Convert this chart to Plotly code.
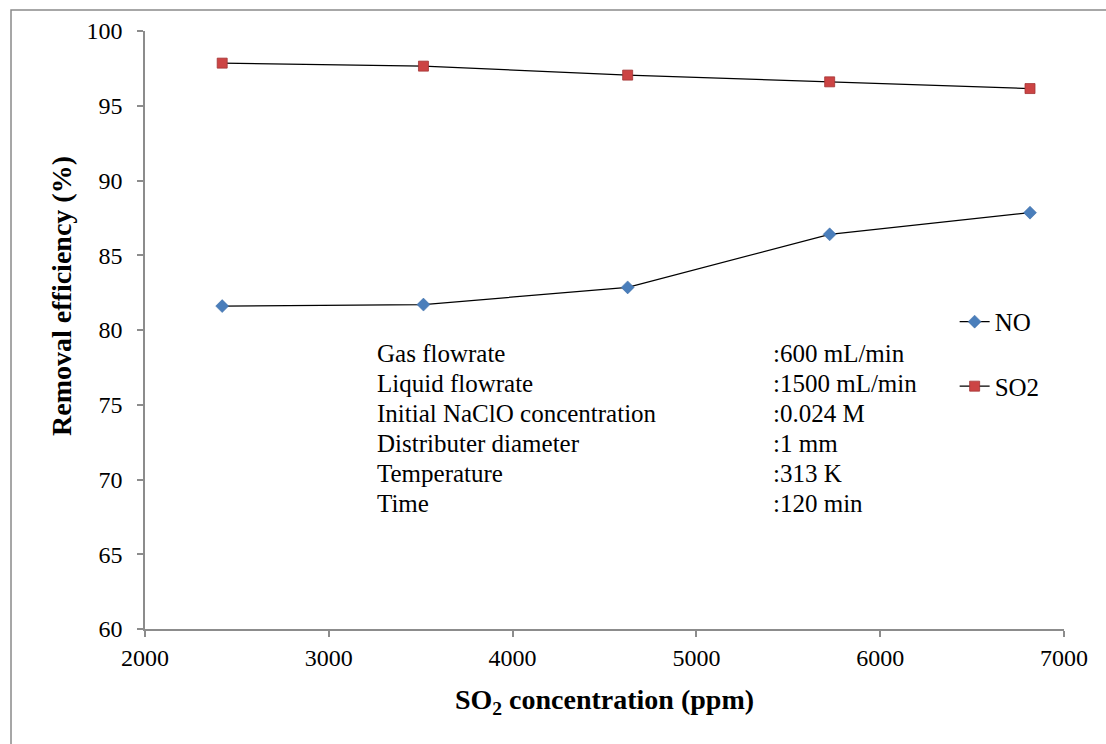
import plotly.graph_objects as go

# Data
so2_conc = [2420, 3515, 4626, 5725, 6815]
no_eff = [81.6, 81.7, 82.85, 86.4, 87.85]
so2_eff = [97.85, 97.65, 97.05, 96.6, 96.15]

cond_labels = ["Gas flowrate", "Liquid flowrate", "Initial NaClO concentration",
               "Distributer diameter", "Temperature", "Time"]
cond_values = [":600 mL/min", ":1500 mL/min", ":0.024 M", ":1 mm", ":313 K", ":120 min"]

FONT = "Liberation Serif, Times New Roman, serif"
AXIS_COLOR = "#8c8c8c"

fig = go.Figure()
fig.add_trace(go.Scatter(
    x=so2_conc, y=no_eff, name="NO", mode="lines+markers", legendgroup="a",
    line=dict(color="black", width=1.2),
    marker=dict(symbol="diamond", size=10, color="#4a7ebb",
                line=dict(color="#3a6aa5", width=0.5)),
))
fig.add_trace(go.Scatter(
    x=so2_conc, y=so2_eff, name="SO2", mode="lines+markers", legendgroup="b",
    line=dict(color="black", width=1.2),
    marker=dict(symbol="square", size=10, color="#cc4444",
                line=dict(color="#a33535", width=0.8)),
))

# Condition text block
row_y0 = 78.4
row_step = 2.0
for i, (lab, val) in enumerate(zip(cond_labels, cond_values)):
    yy = row_y0 - i * row_step
    fig.add_annotation(x=3250, y=yy, xref="x", yref="y", text=lab, showarrow=False,
                       xanchor="left", yanchor="middle",
                       font=dict(family=FONT, size=25, color="black"))
    fig.add_annotation(x=5405, y=yy, xref="x", yref="y", text=val, showarrow=False,
                       xanchor="left", yanchor="middle",
                       font=dict(family=FONT, size=25, color="black"))

# Y axis title (placed like the reference, slightly above the plot centre)
fig.add_annotation(x=-0.0903, y=0.557, xref="paper", yref="paper",
                   text="<b>Removal efficiency (%)</b>", textangle=-90,
                   showarrow=False, xanchor="center", yanchor="middle",
                   font=dict(family=FONT, size=28, color="black"))

# Outer frame (chart area border)
fig.add_shape(type="rect", xref="paper", yref="paper",
              x0=-0.1458, y0=-1.0, x1=2.0, y1=1.0351,
              line=dict(color="#8a8a8a", width=1.5), layer="below")

fig.update_layout(
    width=1106, height=744,
    margin=dict(l=145, r=42, t=31, b=115),
    paper_bgcolor="white", plot_bgcolor="white",
    font=dict(family=FONT, size=24, color="black"),
    showlegend=True,
    legend=dict(x=0.881, y=0.552, xanchor="left", yanchor="top",
                bgcolor="rgba(0,0,0,0)", font=dict(family=FONT, size=25),
                tracegroupgap=29, traceorder="grouped", itemwidth=30),
    xaxis=dict(range=[2000, 7000], tickvals=[2000, 3000, 4000, 5000, 6000, 7000],
               showgrid=False, zeroline=False, showline=True, linecolor=AXIS_COLOR,
               linewidth=1.5, ticks="outside", ticklen=6, tickcolor=AXIS_COLOR,
               tickwidth=1.5, tickfont=dict(family=FONT, size=24),
               title=dict(text="<b>SO<sub>2</sub> concentration (ppm)</b>",
                          font=dict(family=FONT, size=28), standoff=20)),
    yaxis=dict(range=[60, 100], tickvals=[60, 65, 70, 75, 80, 85, 90, 95, 100],
               showgrid=False, zeroline=False, showline=True, linecolor=AXIS_COLOR,
               linewidth=1.5, ticks="outside", ticklen=6, tickcolor=AXIS_COLOR,
               tickwidth=1.5, tickfont=dict(family=FONT, size=24),
               ticklabelstandoff=10),
)

fig.write_html("out.html")
